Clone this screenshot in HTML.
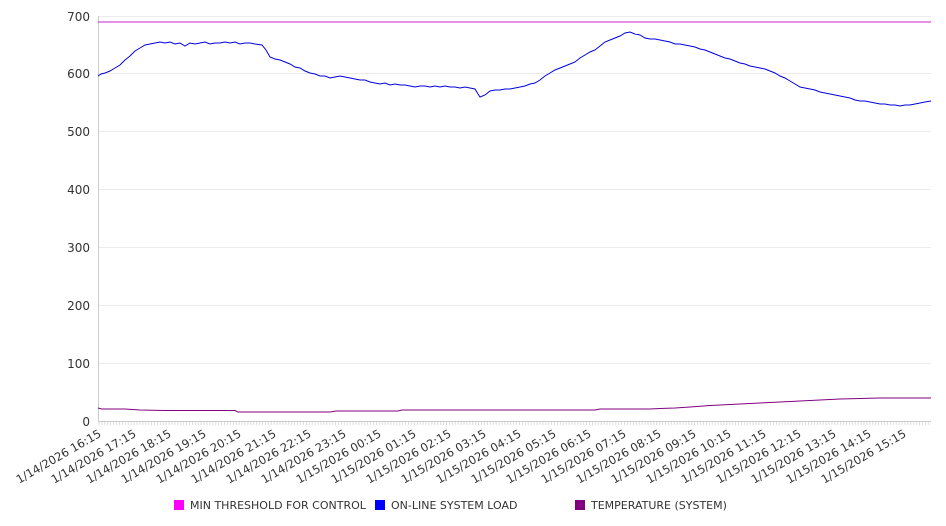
<!DOCTYPE html>
<html><head><meta charset="utf-8"><style>
body{margin:0;background:#fff}
svg{display:block}
text{font-family:"DejaVu Sans",sans-serif;fill:#333}
</style></head><body>
<svg width="946" height="526" xmlns="http://www.w3.org/2000/svg">
<defs>
<pattern id="tk" x="98.5" y="0" width="2.92" height="10" patternUnits="userSpaceOnUse">
<line x1="0.5" y1="0" x2="0.5" y2="10" stroke="#ddd" stroke-width="1"/>
</pattern>
</defs>
<g stroke="#ebebeb" stroke-width="1">
<line x1="98" y1="16.5" x2="931" y2="16.5"/>
<line x1="98" y1="73.5" x2="931" y2="73.5"/>
<line x1="98" y1="131.5" x2="931" y2="131.5"/>
<line x1="98" y1="189.5" x2="931" y2="189.5"/>
<line x1="98" y1="247.5" x2="931" y2="247.5"/>
<line x1="98" y1="305.5" x2="931" y2="305.5"/>
<line x1="98" y1="363.5" x2="931" y2="363.5"/>
</g>
<rect x="98" y="421" width="833" height="4" fill="url(#tk)"/>
<line x1="98.5" y1="16" x2="98.5" y2="421" stroke="#ccc"/>
<line x1="98" y1="421.5" x2="931" y2="421.5" stroke="#ccc"/>
<g font-size="12" text-anchor="end">
<text x="90" y="21">700</text><text x="90" y="78">600</text><text x="90" y="136">500</text>
<text x="90" y="194">400</text><text x="90" y="252">300</text><text x="90" y="310">200</text>
<text x="90" y="368">100</text><text x="90" y="426">0</text>
</g>
<line x1="98" y1="22" x2="931" y2="22" stroke="#cc22cc" stroke-width="1"/>
<polyline fill="none" stroke="#0000dd" stroke-width="1" points="98,76 101,74 105,73 110,71 115,68 120,65 125,60 130,56 135,51 140,48 145,45 150,44 155,43 160,42 165,43 170,42 175,44 180,43 185,46 190,43 195,44 200,43 205,42 210,44 215,43 220,43 225,42 230,43 235,42 240,44 245,43 250,43 255,44 262,45 266,50 270,57 275,59 280,60 285,62 290,64 295,67 300,68 305,71 310,73 315,74 320,76 325,76 330,78 335,77 340,76 345,77 350,78 355,79 360,80 365,80 370,82 375,83 380,84 385,83 390,85 395,84 400,85 405,85 410,86 415,87 420,86 425,86 430,87 435,86 440,87 445,86 450,87 455,87 460,88 465,87 470,88 475,89 478,94 480,97 485,95 490,91 495,90 500,90 505,89 510,89 515,88 520,87 525,86 530,84 535,83 540,80 545,76 550,73 555,70 560,68 565,66 570,64 575,62 580,58 585,55 590,52 595,50 600,46 605,42 610,40 615,38 620,36 625,33 630,32 635,34 640,35 645,38 650,39 655,39 660,40 665,41 670,42 675,44 680,44 685,45 690,46 695,47 700,49 705,50 710,52 715,54 720,56 725,58 730,59 735,61 740,63 745,64 750,66 755,67 760,68 765,69 770,71 775,73 780,76 785,78 790,81 795,84 800,87 805,88 810,89 815,90 820,92 825,93 830,94 835,95 840,96 845,97 850,98 855,100 860,101 865,101 870,102 875,103 880,104 885,104 890,105 895,105 900,106 905,105 910,105 915,104 920,103 925,102 931,101"/>
<polyline fill="none" stroke="#800080" stroke-width="1" points="98,408 102,409 125,409 140,410 165,410.5 235,410.5 238,412 330,412 336,411 398,411 402,410 595,410 600,409 650,409 660,408.5 675,408 690,407 710,405.5 740,404 760,403 780,402 800,401 820,400 840,399 860,398.5 880,398 931,398"/>
<g font-size="11">
<rect x="174" y="500" width="10" height="10" fill="#ff00ff"/>
<text x="190" y="509">MIN THRESHOLD FOR CONTROL</text>
<rect x="375" y="500" width="10" height="10" fill="#0000ff"/>
<text x="391" y="509">ON-LINE SYSTEM LOAD</text>
<rect x="575" y="500" width="10" height="10" fill="#800080"/>
<text x="591" y="509">TEMPERATURE (SYSTEM)</text>
</g>
<g font-size="11.5" text-anchor="end">
<text transform="translate(102,436) rotate(-30)">1/14/2026 16:15</text>
<text transform="translate(137,436) rotate(-30)">1/14/2026 17:15</text>
<text transform="translate(172,436) rotate(-30)">1/14/2026 18:15</text>
<text transform="translate(207,436) rotate(-30)">1/14/2026 19:15</text>
<text transform="translate(242,436) rotate(-30)">1/14/2026 20:15</text>
<text transform="translate(277,436) rotate(-30)">1/14/2026 21:15</text>
<text transform="translate(312,436) rotate(-30)">1/14/2026 22:15</text>
<text transform="translate(347,436) rotate(-30)">1/14/2026 23:15</text>
<text transform="translate(382,436) rotate(-30)">1/15/2026 00:15</text>
<text transform="translate(417,436) rotate(-30)">1/15/2026 01:15</text>
<text transform="translate(452,436) rotate(-30)">1/15/2026 02:15</text>
<text transform="translate(487,436) rotate(-30)">1/15/2026 03:15</text>
<text transform="translate(522,436) rotate(-30)">1/15/2026 04:15</text>
<text transform="translate(557,436) rotate(-30)">1/15/2026 05:15</text>
<text transform="translate(592,436) rotate(-30)">1/15/2026 06:15</text>
<text transform="translate(627,436) rotate(-30)">1/15/2026 07:15</text>
<text transform="translate(662,436) rotate(-30)">1/15/2026 08:15</text>
<text transform="translate(697,436) rotate(-30)">1/15/2026 09:15</text>
<text transform="translate(732,436) rotate(-30)">1/15/2026 10:15</text>
<text transform="translate(767,436) rotate(-30)">1/15/2026 11:15</text>
<text transform="translate(802,436) rotate(-30)">1/15/2026 12:15</text>
<text transform="translate(837,436) rotate(-30)">1/15/2026 13:15</text>
<text transform="translate(872,436) rotate(-30)">1/15/2026 14:15</text>
<text transform="translate(907,436) rotate(-30)">1/15/2026 15:15</text>
</g>
</svg>
</body></html>
